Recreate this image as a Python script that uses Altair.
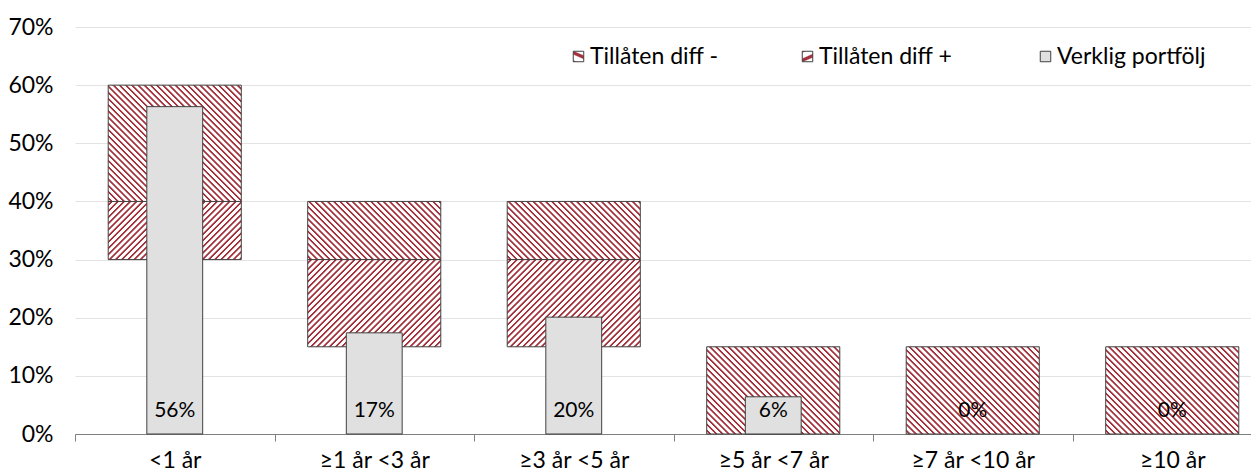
import json
import altair as alt
import pandas as pd

# ---------------- data ----------------
categories = ["<1 år", "≥1 år <3 år", "≥3 år <5 år", "≥5 år <7 år", "≥7 år <10 år", "≥10 år"]
lower = [0.30, 0.15, 0.15, 0.0, 0.0, 0.0]     # lower allowed bound
target = [0.40, 0.30, 0.30, 0.0, 0.0, 0.0]    # target (middle line)
upper = [0.60, 0.40, 0.40, 0.15, 0.15, 0.15]  # upper allowed bound
actual = [0.563, 0.174, 0.201, 0.064, 0.0, 0.0]
series = ["Tillåten diff -", "Tillåten diff +", "Verklig portfölj"]
y_ticks = [0.0, 0.1, 0.2, 0.3, 0.4, 0.5, 0.6, 0.7]

# ---------------- layout / style ----------------
FONT = "Lato"
FS_AXIS = 23
FS_LEG = 23
FS_LBL = 21
PLOT_W = 1176
RANGE_W = 1197
PLOT_H = 407
Y_MAX = 0.7
BAR_FRAC = 0.667
ACT_FRAC = 0.28
STEP = RANGE_W / len(categories)
BAR_W = STEP * BAR_FRAC
PX_PER_UNIT = PLOT_H / Y_MAX
DARK = "#a3323c"
LIGHT = "#ffffff"
EDGE = "#404040"


def hatch(w, h, kind, period=6.2):
    """Diagonal stripes built from a linear gradient in bbox units."""
    n = (w + h) / period
    a = (w + h) * w / (w * w + h * h)
    if kind == "/":
        x1, y1, x2, y2 = 0, 0, a, a * h / w
    else:
        x1, y1, x2, y2 = 0, 1, a, 1 - a * h / w
    pattern = [(0.0, LIGHT), (0.32, LIGHT), (0.46, DARK), (0.70, DARK), (0.84, LIGHT)]
    stops = []
    for i in range(int(n) + 2):
        for f, c in pattern:
            off = (i + f) / n
            if off <= 1:
                stops.append({"offset": round(off, 5), "color": c})
    return {"gradient": "linear", "x1": x1, "y1": y1, "x2": x2, "y2": y2, "stops": stops}


def sym_hatch(kind):
    if kind == "/":
        x1, y1, x2, y2 = 0, 0, 1, 1
        pat = [(0.0, LIGHT), (0.36, LIGHT), (0.42, DARK), (0.58, DARK), (0.64, LIGHT), (1.0, LIGHT)]
    else:
        x1, y1, x2, y2 = 0, 1, 1, 0
        pat = [(0.0, LIGHT), (0.12, LIGHT), (0.18, DARK), (0.32, DARK), (0.38, LIGHT),
               (0.62, LIGHT), (0.68, DARK), (0.82, DARK), (0.88, LIGHT), (1.0, LIGHT)]
    stops = [{"offset": o, "color": c} for o, c in pat]
    return {"gradient": "linear", "x1": x1, "y1": y1, "x2": x2, "y2": y2, "stops": stops}


rows = []
for c, lo, t, hi in zip(categories, lower, target, upper):
    rows.append({"cat": c, "serie": series[0], "lo": lo, "hi": t, "h": round(t - lo, 4)})
    rows.append({"cat": c, "serie": series[1], "lo": t, "hi": hi, "h": round(hi - t, 4)})
band_df = pd.DataFrame(rows)
act_df = pd.DataFrame({"cat": categories, "actual": actual, "serie_v": series[2]})

x_enc = alt.X(
    "cat:N",
    sort=categories,
    scale=alt.Scale(domain=categories, range=[0, RANGE_W], paddingInner=0, paddingOuter=0),
    axis=alt.Axis(
        title=None, tickBand="extent", domainColor="#7f7f7f", tickColor="#7f7f7f",
        tickSize=7, labelPadding=8, labelAngle=0, labelFont=FONT, labelFontSize=FS_AXIS,
        labelColor="#000000", grid=False,
    ),
)
y_scale = alt.Scale(domain=[0, Y_MAX], nice=False)
y_axis = alt.Axis(
    title=None, format=".0%", values=y_ticks, grid=True, gridColor="#e3e3e3",
    domain=False, ticks=False, labelPadding=22, labelFont=FONT, labelFontSize=FS_AXIS,
    labelColor="#000000",
)


def make_legend(x, fill):
    return alt.Legend(
        title=None, orient="none", legendX=x, legendY=18, direction="horizontal",
        symbolType="square", symbolSize=110, symbolStrokeWidth=1, symbolStrokeColor=EDGE,
        symbolFillColor=fill, symbolOpacity=1,
        labelFont=FONT, labelFontSize=FS_LEG, labelColor="#000000", labelOffset=0,
    )


legend_xs = [492, 721, 959]
groups = []
for s_idx, kind in [(0, "/"), (1, "\\")]:
    s = series[s_idx]
    legend = make_legend(legend_xs[s_idx], alt.ExprRef(json.dumps(sym_hatch(kind))))
    heights = sorted({r["h"] for r in rows if r["serie"] == s and r["h"] > 0})
    sub = []
    for h in heights:
        grad = hatch(BAR_W, h * PX_PER_UNIT, kind)
        layer = (
            alt.Chart(band_df)
            .transform_filter(f"datum.serie === '{s}' && abs(datum.h - {h}) < 1e-6")
            .mark_bar(width=alt.RelativeBandSize(BAR_FRAC), strokeWidth=1)
            .encode(
                x=x_enc,
                y=alt.Y("lo:Q", scale=y_scale, axis=y_axis),
                y2="hi:Q",
                fill=alt.value(grad),
                stroke=alt.Stroke(
                    "serie:N", scale=alt.Scale(domain=[s], range=[EDGE]), legend=legend),
            )
        )
        sub.append(layer)
    groups.append(alt.layer(*sub))

act_layer = (
    alt.Chart(act_df)
    .transform_filter("datum.actual > 0")
    .mark_bar(width=alt.RelativeBandSize(ACT_FRAC), strokeWidth=1, stroke=EDGE)
    .encode(
        x=x_enc,
        y=alt.Y("actual:Q", scale=y_scale, axis=y_axis),
        y2=alt.datum(0),
        fill=alt.Fill(
            "serie_v:N",
            scale=alt.Scale(domain=[series[2]], range=["#e0e0e0"]),
            legend=make_legend(legend_xs[2], "#e0e0e0"),
        ),
    )
)

text_layer = (
    alt.Chart(act_df)
    .mark_text(dy=-23, font=FONT, fontSize=FS_LBL, color="#000000", baseline="middle")
    .encode(
        x=x_enc,
        y=alt.datum(0, scale=y_scale),
        text=alt.Text("actual:Q", format=".0%"),
    )
)

chart = (
    alt.layer(groups[0], groups[1], act_layer, text_layer)
    .resolve_scale(stroke="independent")
    .resolve_legend(stroke="independent")
    .properties(
        width=PLOT_W,
        height=PLOT_H,
        autosize=alt.AutoSizeParams(type="none"),
        padding={"left": 67, "top": 19, "right": 0, "bottom": 39},
        background="#ffffff",
    )
    .configure_view(stroke=None)
)

chart.save("out.html", embed_options={"renderer": "svg", "actions": False})
